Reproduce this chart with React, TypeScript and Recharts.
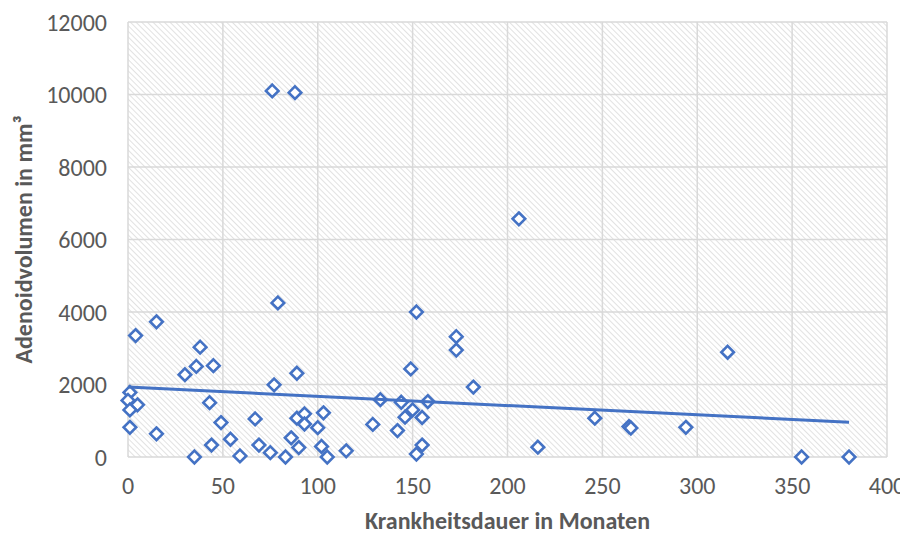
import React from "react";
import {
  ScatterChart,
  Scatter,
  XAxis,
  YAxis,
  CartesianGrid,
} from "recharts";

// Krankheitsdauer (Monate) und Adenoidvolumen (mm³), paarweise
const durationMonths = [
  76, 88, 206, 79, 152, 15, 4, 173, 173, 316, 38, 36, 30, 45, 89, 77, 149, 182,
  1, 0, 5, 1, 1, 15, 43, 49, 44, 35, 54, 67, 59, 69, 75, 83, 86, 90, 89, 93, 93,
  100, 103, 102, 105, 115, 133, 144, 158, 150, 146, 155, 129, 142, 155, 152, 216,
  246, 264, 265, 294, 355, 380,
];
const adenoidVolume = [
  10100, 10050, 6570, 4250, 4000, 3730, 3350, 3320, 2950, 2890, 3030, 2500, 2270,
  2520, 2310, 1990, 2430, 1930, 1780, 1560, 1440, 1300, 820, 640, 1500, 950, 330,
  0, 490, 1050, 30, 330, 120, 0, 530, 260, 1070, 1190, 910, 810, 1220, 290, 0, 170,
  1580, 1510, 1530, 1300, 1100, 1090, 900, 730, 330, 80, 270, 1070, 840, 800, 820,
  0, 0,
];

// linearer Trend, Endpunkte
const trendX = [0, 380];
const trendY = [1930, 960];

const xTicks = [0, 50, 100, 150, 200, 250, 300, 350, 400];
const yTicks = [0, 2000, 4000, 6000, 8000, 10000, 12000];

const points = durationMonths.map((x, i) => ({ x, y: adenoidVolume[i] }));
const trend = trendX.map((x, i) => ({ x, y: trendY[i] }));

const BLUE = "#4472C4";
const GRID = "#d9d9d9";
const TEXT = "#595959";
const FONT = "Carlito, Calibri, Lato, sans-serif";

const Diamond = (props: any) => {
  const { cx, cy } = props;
  const r = 6.3;
  return (
    <path
      d={`M${cx},${cy - r} L${cx + r},${cy} L${cx},${cy + r} L${cx - r},${cy} Z`}
      fill="#ffffff"
      stroke={BLUE}
      strokeWidth={2.6}
    />
  );
};

export default function App() {
  return (
    <div style={{ width: 900, height: 528, fontFamily: FONT }}>
      <ScatterChart
        width={900}
        height={528}
        margin={{ top: 14, right: 21, bottom: 0, left: 0 }}
      >
        <defs>
          <pattern
            id="hatch"
            width="4"
            height="4"
            patternUnits="userSpaceOnUse"
            patternTransform="rotate(-45)"
          >
            <rect width="4" height="4" fill="#ffffff" />
            <line x1="0" y1="0" x2="0" y2="4" stroke="#d6d6d6" strokeWidth={1.4} />
          </pattern>
        </defs>
        <CartesianGrid fill="url(#hatch)" stroke={GRID} strokeWidth={1.5} />
        <XAxis
          type="number"
          dataKey="x"
          domain={[0, 400]}
          ticks={xTicks}
          interval={0}
          axisLine={false}
          tickLine={false}
          tickMargin={14}
          height={79}
          tick={{ fontSize: 24, fill: TEXT, fontFamily: FONT }}
          label={{
            value: "Krankheitsdauer in Monaten",
            position: "insideBottom",
            offset: 7,
            style: { fontSize: 24, fontWeight: 700, fill: TEXT, fontFamily: FONT },
          }}
        />
        <YAxis
          type="number"
          dataKey="y"
          domain={[0, 12000]}
          ticks={yTicks}
          interval={0}
          axisLine={false}
          tickLine={false}
          tickMargin={15}
          width={120}
          tick={{ fontSize: 24, fill: TEXT, fontFamily: FONT }}
          label={{
            value: "Adenoidvolumen in mm³",
            angle: -90,
            position: "insideLeft",
            offset: 15,
            style: {
              fontSize: 24,
              fontWeight: 700,
              fill: TEXT,
              fontFamily: FONT,
              textAnchor: "middle",
            },
          }}
        />
        <Scatter data={points} shape={Diamond} isAnimationActive={false} />
        <Scatter
          data={trend}
          line={{ stroke: BLUE, strokeWidth: 3 }}
          shape={() => <g />}
          isAnimationActive={false}
        />
      </ScatterChart>
    </div>
  );
}
